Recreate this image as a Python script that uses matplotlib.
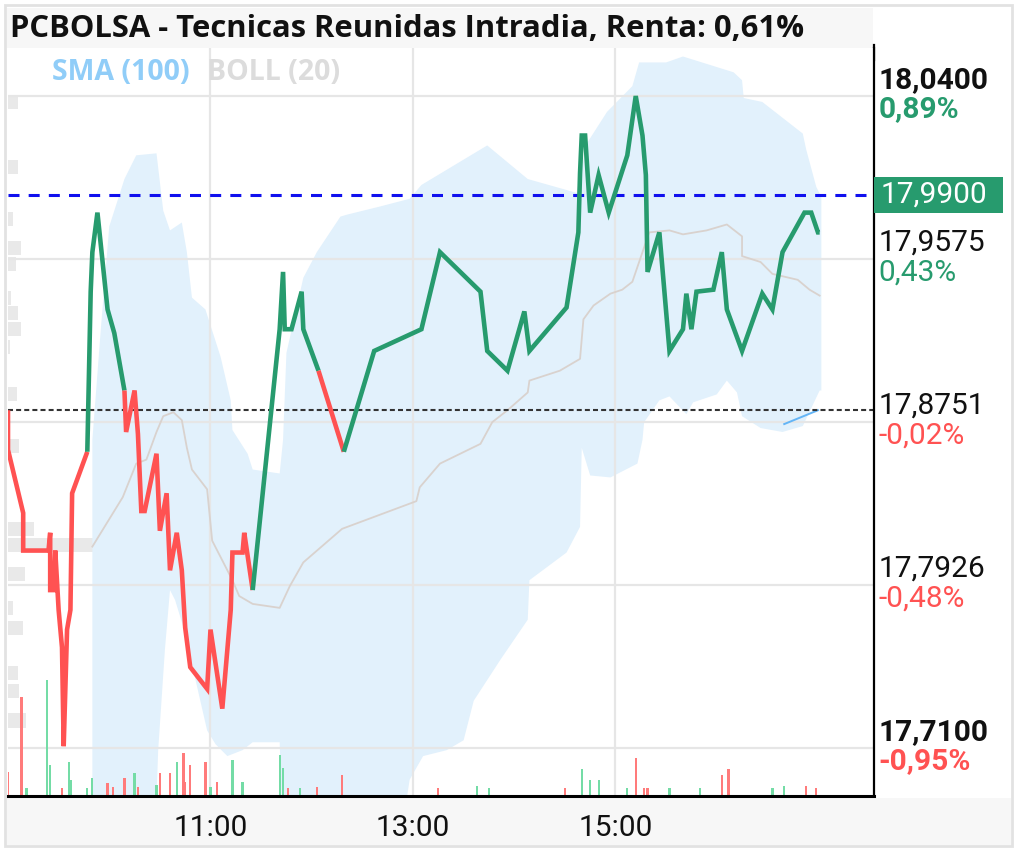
import matplotlib
matplotlib.use("Agg")  # no display

import matplotlib.pyplot as plt
from matplotlib.patches import Rectangle
import numpy as np

plt.rcParams['font.family'] = ['Roboto', 'DejaVu Sans']

# --- chart data ---
title = "PCBOLSA - Tecnicas Reunidas Intradia, Renta: 0,61%"
prev_close = 17.881
last_price = 17.99

price_times = ["09:00", "09:00", "09:09", "09:09", "09:24", "09:25", "09:25", "09:27", "09:28", "09:30",
               "09:32", "09:33", "09:35", "09:37", "09:38", "09:47", "09:49", "09:50", "09:53", "09:59",
               "10:02", "10:03", "10:09", "10:10", "10:15", "10:17", "10:19", "10:21", "10:28", "10:30",
               "10:34", "10:36", "10:40", "10:43", "10:45", "10:48", "10:58", "11:00", "11:07", "11:10",
               "11:12", "11:13", "11:19", "11:20", "11:25", "11:41", "11:43", "11:44", "11:48", "11:54",
               "11:55", "12:04", "12:19", "12:37", "13:05", "13:16", "13:40", "13:44", "13:56", "14:06",
               "14:09", "14:31", "14:38", "14:39", "14:40", "14:42", "14:45", "14:50", "14:56", "15:07",
               "15:12", "15:16", "15:18", "15:19", "15:26", "15:32", "15:40", "15:42", "15:45", "15:48",
               "15:58", "16:03", "16:06", "16:15", "16:27", "16:33", "16:39", "16:52", "16:56", "17:00",
               "17:01"]
price_values = [17.881, 17.861, 17.829, 17.810, 17.810, 17.819, 17.790, 17.790, 17.810, 17.780,
                17.761, 17.711, 17.770, 17.780, 17.839, 17.860, 17.941, 17.961, 17.981, 17.932,
                17.923, 17.920, 17.891, 17.870, 17.891, 17.869, 17.830, 17.830, 17.859, 17.820,
                17.839, 17.800, 17.819, 17.800, 17.771, 17.751, 17.740, 17.770, 17.730, 17.760,
                17.780, 17.809, 17.809, 17.819, 17.790, 17.922, 17.951, 17.922, 17.922, 17.941,
                17.922, 17.901, 17.860, 17.911, 17.922, 17.961, 17.941, 17.911, 17.901, 17.931,
                17.911, 17.933, 17.971, 18.001, 18.020, 18.020, 17.981, 18.000, 17.981, 18.010,
                18.040, 18.020, 18.000, 17.951, 17.971, 17.911, 17.922, 17.940, 17.922, 17.941,
                17.942, 17.961, 17.932, 17.911, 17.940, 17.932, 17.961, 17.981, 17.981, 17.971,
                17.971]
# colour of the segment that starts at each point (r = down, g = up)
price_trend = "r" * 15 + "g" * 7 + "r" * 22 + "g" * 7 + "r" + "g" * 39

boll_up_times = ["09:50", "09:55", "10:00", "10:09", "10:16", "10:28", "10:32", "10:36", "10:43", "10:46",
                 "10:49", "10:57", "11:06", "11:12", "11:13", "11:22", "11:25", "11:41", "11:43", "11:45",
                 "11:55", "12:03", "12:17", "12:21", "12:40", "12:58", "13:05", "13:44", "14:08", "14:37",
                 "14:43", "14:55", "15:10", "15:14", "15:30", "15:40", "16:10", "16:15", "16:16", "16:27",
                 "16:51", "16:53", "16:59", "17:02"]
boll_up_values = [17.866, 17.922, 17.974, 17.998, 18.010, 18.011, 17.982, 17.972, 17.976, 17.961,
                  17.938, 17.932, 17.908, 17.886, 17.871, 17.859, 17.851, 17.849, 17.866, 17.910,
                  17.948, 17.961, 17.979, 17.980, 17.984, 17.988, 17.995, 18.015, 17.998, 17.991,
                  18.016, 18.032, 18.045, 18.057, 18.057, 18.060, 18.052, 18.048, 18.039, 18.037,
                  18.021, 18.013, 17.994, 17.989]
boll_low_times = ["09:50", "10:27", "10:29", "10:33", "10:36", "10:39", "10:44", "10:51", "10:58", "11:03",
                  "11:10", "11:19", "11:25", "11:41", "11:43", "12:52", "12:58", "13:06", "13:20", "13:30",
                  "13:36", "13:52", "14:08", "14:09", "14:31", "14:39", "14:40", "14:45", "14:57", "15:13",
                  "15:16", "15:17", "15:26", "15:32", "15:42", "15:46", "16:00", "16:06", "16:12", "16:15",
                  "16:26", "16:39", "16:51", "17:01", "17:02"]
boll_low_values = [17.660, 17.660, 17.709, 17.760, 17.790, 17.785, 17.771, 17.745, 17.719, 17.712,
                   17.706, 17.709, 17.713, 17.713, 17.660, 17.660, 17.694, 17.706, 17.709, 17.714,
                   17.734, 17.755, 17.775, 17.795, 17.809, 17.822, 17.862, 17.848, 17.847, 17.854,
                   17.866, 17.875, 17.886, 17.888, 17.879, 17.885, 17.889, 17.896, 17.890, 17.878,
                   17.872, 17.870, 17.873, 17.891, 17.891]
boll_mid_times = ["09:50", "10:08", "10:16", "10:22", "10:28", "10:32", "10:38", "10:43", "10:46", "10:49",
                  "10:58", "11:01", "11:13", "11:17", "11:25", "11:41", "11:47", "11:55", "12:18", "13:02",
                  "13:04", "13:16", "13:40", "13:47", "13:56", "14:08", "14:09", "14:27", "14:39", "14:41",
                  "14:47", "14:57", "15:04", "15:10", "15:14", "15:20", "15:32", "15:40", "15:54", "16:06",
                  "16:15", "16:15", "16:26", "16:33", "16:48", "16:55", "17:01"]
boll_mid_values = [17.812, 17.837, 17.854, 17.856, 17.870, 17.878, 17.880, 17.876, 17.862, 17.851,
                   17.841, 17.815, 17.795, 17.787, 17.783, 17.781, 17.792, 17.804, 17.821, 17.835,
                   17.842, 17.854, 17.864, 17.875, 17.881, 17.890, 17.896, 17.901, 17.907, 17.927,
                   17.934, 17.940, 17.942, 17.946, 17.956, 17.971, 17.972, 17.970, 17.972, 17.975,
                   17.969, 17.959, 17.956, 17.950, 17.947, 17.942, 17.939]
sma_times = ["16:40", "17:00"]
sma_values = [17.874, 17.881]

vol_times = ["09:00", "09:08", "09:11", "09:23", "09:25", "09:32", "09:36", "09:37", "09:47", "09:50",
             "09:59", "10:02", "10:09", "10:15", "10:17", "10:28", "10:30", "10:36", "10:40", "10:44",
             "10:45", "10:48", "10:57", "11:00", "11:04", "11:13", "11:19", "11:41", "11:43", "11:46",
             "11:53", "12:03", "12:18", "13:15", "13:38", "13:45", "14:30", "14:40", "14:45", "14:50",
             "15:07", "15:12", "15:17", "15:19", "15:32", "15:50", "16:03", "16:07", "16:33", "16:40",
             "16:53", "16:59"]
vol_values = [240, 990, 80, 1160, 310, 80, 340, 160, 80, 180,
              130, 90, 180, 230, 90, 110, 230, 230, 340, 430,
              140, 310, 340, 90, 140, 360, 140, 410, 280, 80,
              80, 90, 210, 80, 100, 80, 80, 270, 160, 160,
              80, 380, 80, 80, 80, 80, 210, 270, 80, 100,
              100, 80]
vol_side = "rrgggrgggg" + "rrrgrgrrgr" + "rrrgrggggr" + "grrrggrggg" + "grrrggrrgg" + "r"
vol_side = vol_side[:len(vol_values)]

profile_prices = [18.037, 18.004, 17.978, 17.963, 17.955, 17.938, 17.930, 17.922, 17.913, 17.889,
                  17.863, 17.821, 17.813, 17.798, 17.781, 17.771, 17.748, 17.739, 17.724]
profile_volumes = [100, 100, 50, 130, 80, 30, 100, 130, 20, 90,
                   110, 260, 850, 170, 50, 150, 100, 110, 180]

level_prices = [18.04, 17.9575, 17.8751, 17.7926, 17.71]
level_pct = ["0,89%", "0,43%", "-0,02%", "-0,48%", "-0,95%"]
x_tick_labels = ["11:00", "13:00", "15:00"]

# --- styling ---
GREEN = "#279b6e"
RED = "#ff5252"
VOL_GREEN = "#74dca6"
VOL_RED = "#ff7b7b"
BAND = "#e2f1fc"
W, H = 1017, 851
VOL_AXIS_MAX = 7480
PROFILE_AXIS_MAX = 8660
LABEL_FS = 21.5


def to_min(t):
    h, m = t.split(":")
    return (int(h) - 9) * 60 + int(m)


def mins(times):
    return np.array([to_min(t) for t in times], dtype=float)


fig = plt.figure(figsize=(W / 100, H / 100), dpi=100)

# background frame, title bar and time strip
deco = fig.add_axes([0, 0, 1, 1], zorder=-1)
deco.set_xlim(0, W)
deco.set_ylim(H, 0)
deco.axis("off")
deco.add_patch(Rectangle((5, 5), 1007, 841, fill=False, edgecolor="#e2e2e2", lw=2))
deco.add_patch(Rectangle((7, 8), 866, 40, facecolor="#f7f7f7", lw=0))
deco.add_patch(Rectangle((7, 798), 1004, 47, facecolor="#f7f7f7", lw=0))
deco.plot([874, 874], [45, 60], color="black", lw=1.6)

ax = fig.add_axes([8 / W, 55 / H, 866 / W, 748 / H])
ax.set_xlim(0, 513.2)
ax.set_ylim(17.6858, 18.0643)

# volume profile on the left edge
ax.barh(profile_prices, np.array(profile_volumes) / PROFILE_AXIS_MAX, height=0.0071, left=0,
        color="#e9e9e9", zorder=0.9, transform=ax.get_yaxis_transform())

# bollinger band
band_x = np.concatenate([mins(boll_up_times), mins(boll_low_times)[::-1]])
band_y = np.concatenate([boll_up_values, boll_low_values[::-1]])
ax.fill(band_x, band_y, color=BAND, lw=0, zorder=1)
ax.plot(mins(boll_mid_times), boll_mid_values, color="#d9d2ce", lw=1.3, zorder=1.7)
ax.plot(mins(sma_times), sma_values, color="#64b5f6", lw=1.4, zorder=1.7)

# volume bars at the bottom
vol_colors = [VOL_GREEN if s == "g" else VOL_RED for s in vol_side]
ax.bar(mins(vol_times), np.array(vol_values) / VOL_AXIS_MAX, width=1.3, bottom=0,
       color=vol_colors, zorder=1.8, transform=ax.get_xaxis_transform())

# reference lines
ax.axhline(last_price, color="#1010ee", lw=2.2, dashes=(3.6, 3.0), zorder=2)
ax.axhline(prev_close, color="#333333", lw=1.5, dashes=(2.4, 1.5), zorder=2)

# price line, coloured by run
px = mins(price_times)
py = np.array(price_values)
start = 0
for i in range(1, len(px)):
    if i == len(px) - 1 or price_trend[i] != price_trend[start]:
        col = GREEN if price_trend[start] == "g" else RED
        ax.plot(px[start:i + 1], py[start:i + 1], color=col, lw=3.3, zorder=3,
                solid_joinstyle="miter", solid_capstyle="butt")
        start = i

# grid and axes
ax.set_xticks([to_min(t) for t in x_tick_labels])
ax.set_xticklabels(x_tick_labels)
ax.set_yticks(level_prices)
ax.set_axisbelow("line")
ax.grid(True, color="#e6e6e6", lw=1.6)
ax.tick_params(axis="x", length=0, pad=13, labelsize=21.5, labelcolor="#111111")
ax.tick_params(axis="y", length=0, labelleft=False, labelright=False)
for side in ("left", "top"):
    ax.spines[side].set_visible(False)
ax.spines["right"].set_color("black")
ax.spines["right"].set_linewidth(1.6)
ax.spines["bottom"].set_color("black")
ax.spines["bottom"].set_linewidth(2.2)

# price levels on the right
ytrans = ax.get_yaxis_transform()
for k, (p, pct) in enumerate(zip(level_prices, level_pct)):
    weight = "bold" if k in (0, len(level_prices) - 1) else "normal"
    pcol = RED if pct.startswith("-") else GREEN
    ax.annotate(f"{p:.4f}".replace(".", ","), xy=(1, p), xycoords=ytrans, xytext=(3, 11.5),
                textcoords="offset points", ha="left", va="center", fontsize=LABEL_FS,
                fontweight=weight, color="#111111", annotation_clip=False)
    ax.annotate(pct, xy=(1, p), xycoords=ytrans, xytext=(3, -9.5),
                textcoords="offset points", ha="left", va="center", fontsize=LABEL_FS,
                fontweight=weight, color=pcol, annotation_clip=False)

# last price tag
ax.add_patch(Rectangle((1, last_price - 0.0091), 129 / 866, 0.0182, transform=ytrans,
                       facecolor=GREEN, lw=0, clip_on=False, zorder=4))
ax.annotate(f"{last_price:.4f}".replace(".", ","), xy=(1, last_price), xycoords=ytrans,
            xytext=(4.5, 0), textcoords="offset points", ha="left", va="center",
            fontsize=LABEL_FS, color="white", annotation_clip=False, zorder=5)

# title and indicator legend
fig.text(10 / W, 1 - 29 / H, title, ha="left", va="center", fontsize=22.3,
         fontweight="bold", color="#111111", family=["Open Sans", "DejaVu Sans"])
fig.text(52 / W, 1 - 73 / H, "SMA (100)", ha="left", va="center", fontsize=20.5,
         fontweight="bold", color="#90cdf8", family=["Open Sans", "DejaVu Sans"])
fig.text(207 / W, 1 - 73 / H, "BOLL (20)", ha="left", va="center", fontsize=20.5,
         fontweight="bold", color="#dcdcdc", family=["Open Sans", "DejaVu Sans"])

fig.savefig("out.png", dpi=100)
